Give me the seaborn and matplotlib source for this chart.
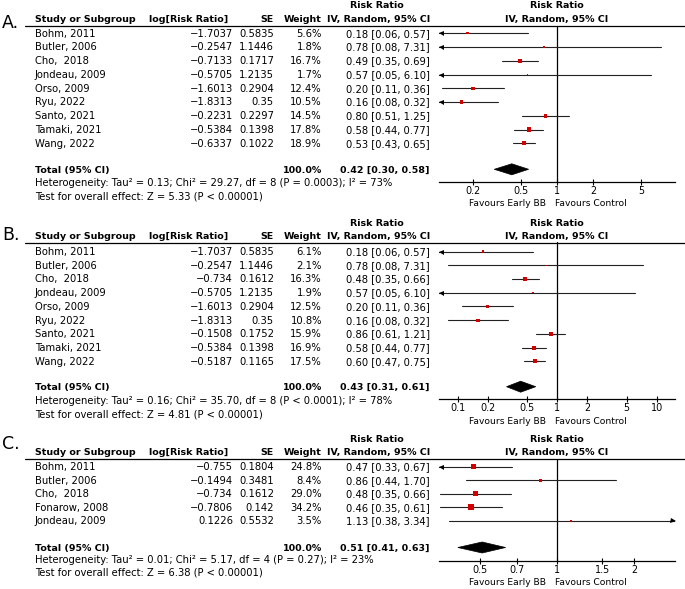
import numpy as np
import pandas as pd
import matplotlib
matplotlib.use("Agg")
import matplotlib.pyplot as plt
import matplotlib.transforms as mtransforms
from matplotlib.patches import Polygon
from matplotlib.ticker import FixedLocator, FixedFormatter, NullLocator
import seaborn as sns

sns.set_theme(style="white")
plt.rcParams['font.family'] = ['DejaVu Sans']
plt.rcParams['text.color'] = 'black'
plt.rcParams['xtick.color'] = 'black'

# ---------------- data ----------------
studies_A = ["Bohm, 2011", "Butler, 2006", "Cho,  2018", "Jondeau, 2009", "Orso, 2009",
             "Ryu, 2022", "Santo, 2021", "Tamaki, 2021", "Wang, 2022"]
logrr_A = [-1.7037, -0.2547, -0.7133, -0.5705, -1.6013, -1.8313, -0.2231, -0.5384, -0.6337]
se_A = [0.5835, 1.1446, 0.1717, 1.2135, 0.2904, 0.35, 0.2297, 0.1398, 0.1022]
weight_A = [5.6, 1.8, 16.7, 1.7, 12.4, 10.5, 14.5, 17.8, 18.9]
rr_A = [0.18, 0.78, 0.49, 0.57, 0.20, 0.16, 0.80, 0.58, 0.53]
lo_A = [0.06, 0.08, 0.35, 0.05, 0.11, 0.08, 0.51, 0.44, 0.43]
hi_A = [0.57, 7.31, 0.69, 6.10, 0.36, 0.32, 1.25, 0.77, 0.65]
total_A = [0.42, 0.30, 0.58]
het_A = "Heterogeneity: Tau² = 0.13; Chi² = 29.27, df = 8 (P = 0.0003); I² = 73%"
test_A = "Test for overall effect: Z = 5.33 (P < 0.00001)"
ticks_A = [0.2, 0.5, 1, 2, 5]
ticklabels_A = ["0.2", "0.5", "1", "2", "5"]

studies_B = ["Bohm, 2011", "Butler, 2006", "Cho,  2018", "Jondeau, 2009", "Orso, 2009",
             "Ryu, 2022", "Santo, 2021", "Tamaki, 2021", "Wang, 2022"]
logrr_B = [-1.7037, -0.2547, -0.734, -0.5705, -1.6013, -1.8313, -0.1508, -0.5384, -0.5187]
se_B = [0.5835, 1.1446, 0.1612, 1.2135, 0.2904, 0.35, 0.1752, 0.1398, 0.1165]
weight_B = [6.1, 2.1, 16.3, 1.9, 12.5, 10.8, 15.9, 16.9, 17.5]
rr_B = [0.18, 0.78, 0.48, 0.57, 0.20, 0.16, 0.86, 0.58, 0.60]
lo_B = [0.06, 0.08, 0.35, 0.05, 0.11, 0.08, 0.61, 0.44, 0.47]
hi_B = [0.57, 7.31, 0.66, 6.10, 0.36, 0.32, 1.21, 0.77, 0.75]
total_B = [0.43, 0.31, 0.61]
het_B = "Heterogeneity: Tau² = 0.16; Chi² = 35.70, df = 8 (P < 0.0001); I² = 78%"
test_B = "Test for overall effect: Z = 4.81 (P < 0.00001)"
ticks_B = [0.1, 0.2, 0.5, 1, 2, 5, 10]
ticklabels_B = ["0.1", "0.2", "0.5", "1", "2", "5", "10"]

studies_C = ["Bohm, 2011", "Butler, 2006", "Cho,  2018", "Fonarow, 2008", "Jondeau, 2009"]
logrr_C = [-0.755, -0.1494, -0.734, -0.7806, 0.1226]
se_C = [0.1804, 0.3481, 0.1612, 0.142, 0.5532]
weight_C = [24.8, 8.4, 29.0, 34.2, 3.5]
rr_C = [0.47, 0.86, 0.48, 0.46, 1.13]
lo_C = [0.33, 0.44, 0.35, 0.35, 0.38]
hi_C = [0.67, 1.70, 0.66, 0.61, 3.34]
total_C = [0.51, 0.41, 0.63]
het_C = "Heterogeneity: Tau² = 0.01; Chi² = 5.17, df = 4 (P = 0.27); I² = 23%"
test_C = "Test for overall effect: Z = 6.38 (P < 0.00001)"
ticks_C = [0.5, 0.7, 1, 1.5, 2]
ticklabels_C = ["0.5", "0.7", "1", "1.5", "2"]

# ---------------- figure ----------------
W, H = 685, 589
fig = plt.figure(figsize=(W / 100, H / 100), dpi=100)
fig.patch.set_facecolor('white')
tx = fig.add_axes([0, 0, 1, 1])
tx.set_xlim(0, W)
tx.set_ylim(H, 0)
tx.axis('off')

FS = 7.2          # regular text
FSB = 6.8         # bold text
FSF = 6.6         # favours / tick labels
BL = 3.4          # baseline offset from visual centre (px)
RED = '#d40000'
LINE = '#222222'
X_PLOT0, X_PLOT1 = 439, 675


def fmt(v):
    return f"{v:g}".replace('-', '\u2212')


def t(x, y, s, ha='left', bold=False, size=None):
    if size is None:
        size = FSB if bold else FS
    tx.text(x, y + BL, s, ha=ha, va='baseline', fontsize=size,
            fontweight='bold' if bold else 'normal')


def panel(label, names, logrr, se, weight, rr, lo, hi, total, het, test,
          ticks, ticklabels, xlim, lay):
    h1, h2, ul, r0, dr, ytot, yhet, ytest, yax, yfav, ylab = lay
    tx.text(2, ylab, label, ha='left', va='baseline', fontsize=12.5)
    # headers
    t(377, h1, "Risk Ratio", ha='center', bold=True)
    t(557, h1, "Risk Ratio", ha='center', bold=True)
    t(35, h2, "Study or Subgroup", bold=True)
    t(228, h2, "log[Risk Ratio]", ha='right', bold=True)
    t(274, h2, "SE", ha='right', bold=True)
    t(322, h2, "Weight", ha='right', bold=True)
    t(430, h2, "IV, Random, 95% CI", ha='right', bold=True)
    t(557, h2, "IV, Random, 95% CI", ha='center', bold=True)
    tx.plot([25, W], [ul, ul], color='black', lw=0.9)
    ys = [r0 + i * dr for i in range(len(names))]
    for i, y in enumerate(ys):
        t(35, y, names[i])
        t(233, y, fmt(logrr[i]), ha='right')
        t(274, y, fmt(se[i]), ha='right')
        t(322, y, f"{weight[i]:.1f}%", ha='right')
        t(430, y, f"{rr[i]:.2f} [{lo[i]:.2f}, {hi[i]:.2f}]", ha='right')
    t(35, ytot, "Total (95% CI)", bold=True)
    t(322, ytot, "100.0%", ha='right', bold=True)
    t(430, ytot, f"{total[0]:.2f} [{total[1]:.2f}, {total[2]:.2f}]", ha='right', bold=True)
    t(35, yhet, het)
    t(35, ytest, test)
    t(546, yfav, "Favours Early BB", ha='right', size=FSF)
    t(555, yfav, "Favours Control", ha='left', size=FSF)

    ax = fig.add_axes([X_PLOT0 / W, 1 - yax / H, (X_PLOT1 - X_PLOT0) / W, (yax - ul) / H])
    ax.set_xscale('log')
    ax.set_xlim(*xlim)
    ax.set_ylim(yax, ul)
    ax.patch.set_alpha(0)
    for s in ['top', 'left', 'right']:
        ax.spines[s].set_visible(False)
    ax.spines['bottom'].set_color('black')
    ax.spines['bottom'].set_linewidth(0.9)
    ax.axvline(1, color='black', lw=0.9, zorder=1)
    left_tr = mtransforms.offset_copy(ax.get_yaxis_transform(), fig=fig, x=2.4, units='dots')
    right_tr = mtransforms.offset_copy(ax.get_yaxis_transform(), fig=fig, x=-2.4, units='dots')
    for i, y in enumerate(ys):
        ax.plot([lo[i], hi[i]], [y, y], color=LINE, lw=0.8, zorder=2)
        if lo[i] < xlim[0]:
            ax.plot([0], [y], marker='<', ms=3.6, color='black', transform=left_tr,
                    clip_on=False, zorder=3, markeredgewidth=0)
        if hi[i] > xlim[1]:
            ax.plot([1], [y], marker='>', ms=3.6, color='black', transform=right_tr,
                    clip_on=False, zorder=3, markeredgewidth=0)
    df = pd.DataFrame({'rr': rr, 'y': ys, 'w': weight})
    sns.scatterplot(data=df, x='rr', y='y', size='w', sizes=(0, 51.8), size_norm=(0, 100),
                    marker='s', color=RED, linewidth=0, legend=False, ax=ax, zorder=4)
    dh = 5.5
    ax.add_patch(Polygon([[total[1], ytot], [total[0], ytot - dh], [total[2], ytot],
                          [total[0], ytot + dh]], closed=True, facecolor='black',
                         edgecolor='black', lw=0.5, zorder=4))
    ax.set_xlabel('')
    ax.set_ylabel('')
    ax.set_yticks([])
    ax.xaxis.set_major_locator(FixedLocator(ticks))
    ax.xaxis.set_major_formatter(FixedFormatter(ticklabels))
    ax.xaxis.set_minor_locator(NullLocator())
    ax.tick_params(axis='x', which='major', direction='inout', length=4.3, width=0.8,
                   labelsize=FSF + 0.3, pad=0.4, bottom=True, color='black')
    return ax


lay_A = (5, 18.5, 25.5, 33.3, 13.75, 169.3, 182.7, 196.3, 182.3, 203, 28)
lay_B = (222.7, 236, 242.5, 251.7, 13.7, 386.7, 400.5, 414.5, 399.3, 420.7, 240)
lay_C = (438.5, 452, 459, 466.7, 13.5, 547.5, 559.5, 572.5, 561, 582, 449)

panel("A.", studies_A, logrr_A, se_A, weight_A, rr_A, lo_A, hi_A, total_A, het_A, test_A,
      ticks_A, ticklabels_A, (0.104, 9.6), lay_A)
panel("B.", studies_B, logrr_B, se_B, weight_B, rr_B, lo_B, hi_B, total_B, het_B, test_B,
      ticks_B, ticklabels_B, (0.065, 15.3), lay_B)
panel("C.", studies_C, logrr_C, se_C, weight_C, rr_C, lo_C, hi_C, total_C, het_C, test_C,
      ticks_C, ticklabels_C, (0.346, 2.89), lay_C)

fig.savefig("out.png", dpi=100, facecolor='white')
